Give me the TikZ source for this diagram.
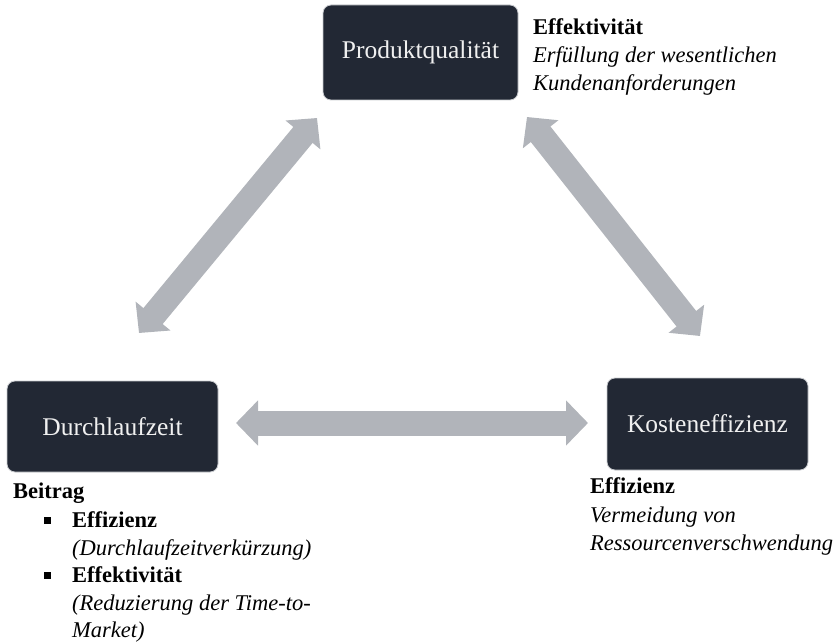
\documentclass[tikz,border=0pt]{standalone}
\usepackage{fontspec}
\setmainfont{Liberation Serif}
\usetikzlibrary{arrows.meta}
\definecolor{boxfill}{HTML}{222834}
\definecolor{arrowgray}{HTML}{B1B4BA}
\definecolor{boxedge}{HTML}{C9CBCF}
\begin{document}
\begin{tikzpicture}[x=1pt,y=-1pt,
  factor/.style={rectangle, rounded corners=8pt, fill=boxfill, draw=boxedge,
    line width=0.8pt, text=white!94!black, inner sep=0pt,
    font=\fontsize{25.5}{30}\selectfont},
  link/.style={draw=arrowgray, line width=25pt,
    {Triangle[width=44pt,length=22pt]}-{Triangle[width=44pt,length=22pt]}},
  note/.style={anchor=base west, inner sep=0pt,
    font=\fontsize{22.5}{28}\selectfont},
  bulletsq/.style={rectangle, fill=black, inner sep=0pt, minimum size=7pt}]
\useasboundingbox (0,0) rectangle (838,644);

% the three factors
\node[factor, minimum width=195pt, minimum height=95pt] (pq) at (420.5,52.5) {Produktqualität};
\node[factor, minimum width=211pt, minimum height=91pt] (dlz) at (112.5,426.5) {Durchlaufzeit};
\node[factor, minimum width=201pt, minimum height=92pt] (ke) at (707.5,424) {Kosteneffizienz};

% ends of the double arrows
\coordinate (dlzUp) at (139,333);
\coordinate (pqLeft) at (317,118);
\coordinate (pqRight) at (527,117);
\coordinate (keUp) at (700,336);
\coordinate (dlzRight) at (236,423);
\coordinate (keLeft) at (588,423);

\draw[link] (dlzUp) -- (pqLeft);
\draw[link] (pqRight) -- (keUp);
\draw[link] (dlzRight) -- (keLeft);

% note beside Produktqualität
\node[note] (pqA) at (533,35) {\textbf{Effektivität}};
\node[note] (pqB) at (533,63) {\textit{Erfüllung der wesentlichen}};
\node[note] (pqC) at (533,91) {\textit{Kundenanforderungen}};

% note below Durchlaufzeit
\node[note] (dlzA) at (13,498) {\textbf{Beitrag}};
\node[bulletsq] (dlzB1) at (47,520) {};
\node[note] (dlzB) at (72,527) {\textbf{Effizienz}};
\node[note] (dlzC) at (72,555) {\textit{(Durchlaufzeitverkürzung)}};
\node[bulletsq] (dlzD1) at (47,575) {};
\node[note] (dlzD) at (72,582) {\textbf{Effektivität}};
\node[note] (dlzE) at (72,610) {\textit{(Reduzierung der Time-to-}};
\node[note] (dlzF) at (72,637) {\textit{Market)}};

% note below Kosteneffizienz
\node[note] (keA) at (590,493) {\textbf{Effizienz}};
\node[note] (keB) at (590,522) {\textit{Vermeidung von}};
\node[note] (keC) at (590,550) {\textit{Ressourcenverschwendung}};
\end{tikzpicture}
\end{document}
